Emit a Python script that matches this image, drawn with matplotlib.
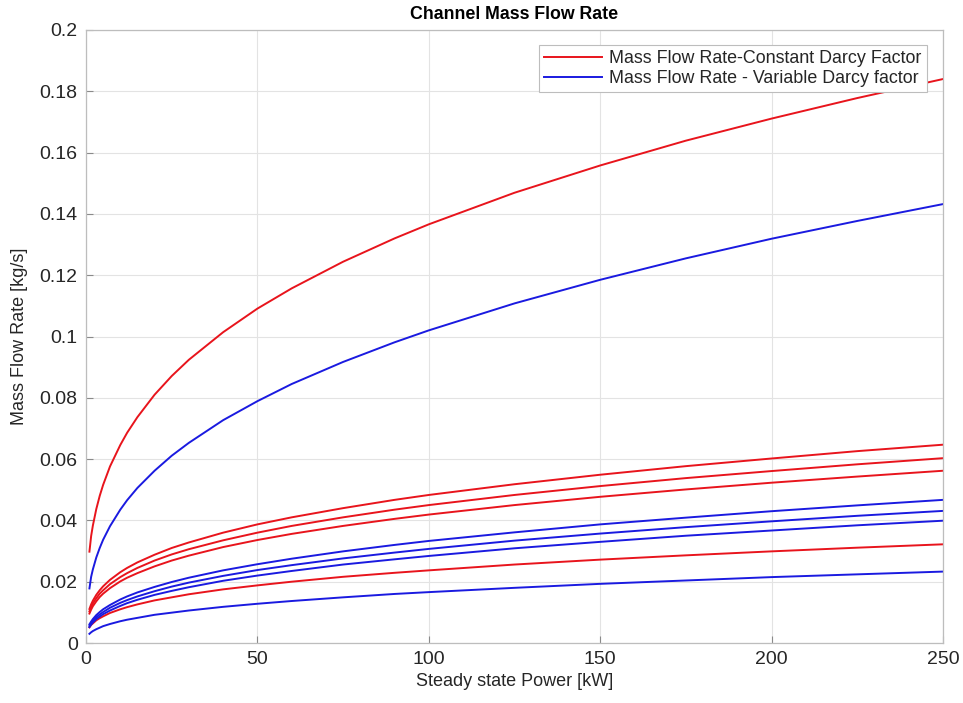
import matplotlib
matplotlib.use("Agg")
import matplotlib.pyplot as plt

plt.rcParams['font.family'] = ['Liberation Sans', 'DejaVu Sans']

power = [1, 1.5, 2, 3, 4, 5, 7, 10, 12, 15, 20, 25, 30, 40, 50, 60, 75, 90, 100,
         125, 150, 175, 200, 225, 250]

red_curves = [
    [0.0298, 0.0349, 0.0383, 0.0437, 0.0480, 0.0516, 0.0576, 0.0646, 0.0686, 0.0737, 0.0810,
     0.0871, 0.0924, 0.1014, 0.1091, 0.1157, 0.1244, 0.1320, 0.1366, 0.1469, 0.1558, 0.1639,
     0.1711, 0.1778, 0.1840],
    [0.0111, 0.0126, 0.0138, 0.0157, 0.0172, 0.0185, 0.0206, 0.0231, 0.0245, 0.0263, 0.0288,
     0.0310, 0.0328, 0.0360, 0.0387, 0.0410, 0.0440, 0.0467, 0.0483, 0.0518, 0.0549, 0.0577,
     0.0602, 0.0626, 0.0647],
    [0.0103, 0.0117, 0.0129, 0.0146, 0.0161, 0.0172, 0.0192, 0.0215, 0.0228, 0.0245, 0.0269,
     0.0289, 0.0306, 0.0335, 0.0360, 0.0382, 0.0410, 0.0435, 0.0450, 0.0483, 0.0512, 0.0538,
     0.0561, 0.0583, 0.0603],
    [0.0096, 0.0109, 0.0120, 0.0136, 0.0150, 0.0161, 0.0179, 0.0201, 0.0213, 0.0228, 0.0250,
     0.0269, 0.0285, 0.0313, 0.0336, 0.0356, 0.0382, 0.0405, 0.0419, 0.0450, 0.0477, 0.0501,
     0.0523, 0.0543, 0.0562],
    [0.0051, 0.0059, 0.0064, 0.0074, 0.0081, 0.0087, 0.0098, 0.0110, 0.0117, 0.0126, 0.0139,
     0.0149, 0.0159, 0.0175, 0.0188, 0.0200, 0.0216, 0.0229, 0.0237, 0.0256, 0.0272, 0.0286,
     0.0299, 0.0311, 0.0322],
]

blue_curves = [
    [0.0178, 0.0216, 0.0240, 0.0279, 0.0310, 0.0337, 0.0381, 0.0435, 0.0466, 0.0506, 0.0562,
     0.0611, 0.0653, 0.0727, 0.0789, 0.0845, 0.0917, 0.0981, 0.1020, 0.1108, 0.1185, 0.1255,
     0.1319, 0.1377, 0.1432],
    [0.0061, 0.0070, 0.0078, 0.0091, 0.0101, 0.0110, 0.0124, 0.0142, 0.0152, 0.0165, 0.0183,
     0.0199, 0.0213, 0.0237, 0.0257, 0.0275, 0.0299, 0.0320, 0.0333, 0.0361, 0.0387, 0.0409,
     0.0430, 0.0449, 0.0467],
    [0.0056, 0.0065, 0.0072, 0.0084, 0.0093, 0.0101, 0.0115, 0.0131, 0.0140, 0.0152, 0.0169,
     0.0184, 0.0197, 0.0219, 0.0238, 0.0254, 0.0276, 0.0295, 0.0307, 0.0334, 0.0357, 0.0378,
     0.0397, 0.0415, 0.0431],
    [0.0052, 0.0060, 0.0067, 0.0078, 0.0086, 0.0094, 0.0106, 0.0121, 0.0130, 0.0141, 0.0157,
     0.0170, 0.0182, 0.0203, 0.0220, 0.0235, 0.0256, 0.0273, 0.0284, 0.0309, 0.0330, 0.0350,
     0.0367, 0.0384, 0.0399],
    [0.0030, 0.0035, 0.0039, 0.0045, 0.0050, 0.0055, 0.0062, 0.0071, 0.0076, 0.0082, 0.0092,
     0.0099, 0.0106, 0.0118, 0.0128, 0.0137, 0.0149, 0.0160, 0.0166, 0.0180, 0.0193, 0.0204,
     0.0215, 0.0224, 0.0233],
]

x_ticks = [0, 50, 100, 150, 200, 250]
y_ticks = [0, 0.02, 0.04, 0.06, 0.08, 0.1, 0.12, 0.14, 0.16, 0.18, 0.2]
y_tick_labels = ['0', '0.02', '0.04', '0.06', '0.08', '0.1', '0.12', '0.14', '0.16', '0.18', '0.2']
legend_labels = ['Mass Flow Rate-Constant Darcy Factor', 'Mass Flow Rate - Variable Darcy factor']

fig = plt.figure(figsize=(9.63, 7.03), dpi=100)
ax = fig.add_axes([86/963, 60/703, 857/963, 613/703])

text_col = '#262626'
for i, ys in enumerate(red_curves):
    ax.plot(power, ys, color='#e8141c', lw=1.4, label=legend_labels[0] if i == 0 else None)
for i, ys in enumerate(blue_curves):
    ax.plot(power, ys, color='#1a1ae0', lw=1.4, label=legend_labels[1] if i == 0 else None)

ax.set_xlim(0, 250)
ax.set_ylim(0, 0.2)
ax.set_xticks(x_ticks)
ax.set_xticklabels([str(t) for t in x_ticks])
ax.set_yticks(y_ticks)
ax.set_yticklabels(y_tick_labels)
ax.grid(True, color='#e3e3e3', lw=0.8)
ax.set_axisbelow(True)
for s in ax.spines.values():
    s.set_color('#bdbdbd')
    s.set_linewidth(0.9)
ax.tick_params(direction='in', length=5, width=0.8, color='#8a8a8a',
               labelsize=14, labelcolor=text_col, pad=6, top=False, right=False)

ax.set_xlabel('Steady state Power [kW]', fontsize=13, color=text_col, labelpad=3)
ax.set_ylabel('Mass Flow Rate [kg/s]', fontsize=13, color=text_col, labelpad=8)
ax.set_title('Channel Mass Flow Rate', fontsize=12.8, fontweight='bold', color='black', pad=8)

leg = ax.legend(loc='upper right', bbox_to_anchor=(0.981, 0.9755), borderaxespad=0,
                fontsize=12.9, frameon=True, fancybox=False, framealpha=1.0,
                handlelength=3.2, labelspacing=0.15, borderpad=0.3, handletextpad=0.4)
leg.get_frame().set_edgecolor('#bdbdbd')
leg.get_frame().set_linewidth(0.8)
for t in leg.get_texts():
    t.set_color(text_col)

fig.savefig('out.png', dpi=100, facecolor='white')
